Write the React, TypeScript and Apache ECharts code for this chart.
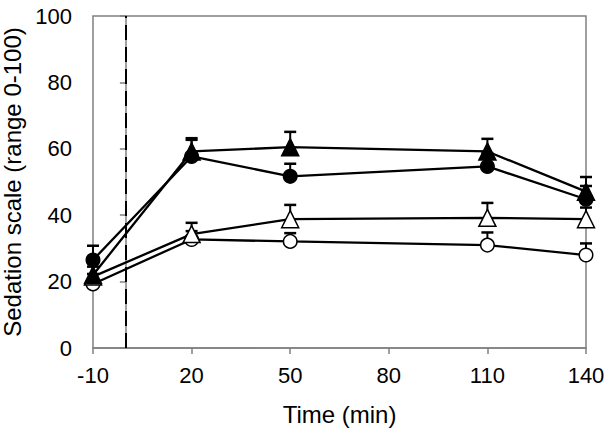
import React, { useEffect, useRef } from "react";
import * as echarts from "echarts";

const times = [-10, 20, 50, 110, 140];
const xTicks = [-10, 20, 50, 80, 110, 140];
const infusionStart = 0;

const filledCircle = [26.5, 57.7, 51.7, 54.7, 44.8];
const filledCircleErr = [4.3, 5, 3.8, 4, 4];
const filledTriangle = [22, 59.2, 60.5, 59.2, 47.1];
const filledTriangleErr = [4, 4, 4.6, 3.8, 4.4];
const openTriangle = [21.5, 34.3, 38.8, 39.2, 38.8];
const openTriangleErr = [3, 3.4, 4.3, 4.5, 3.5];
const openCircle = [19.3, 32.7, 32.1, 31, 28];
const openCircleErr = [3, 2.5, 2.5, 3.8, 3.5];

const FONT = "Liberation Sans, Arial, sans-serif";

function pairs(ys: number[]) {
  return times.map((t, i) => [t, ys[i]]);
}

function errSeries(ys: number[], errs: number[], z: number) {
  return {
    type: "custom",
    z,
    silent: true,
    data: times.map((t, i) => [t, ys[i], ys[i] + errs[i]]),
    renderItem: (params: any, api: any) => {
      const p0 = api.coord([api.value(0), api.value(1)]);
      const p1 = api.coord([api.value(0), api.value(2)]);
      const hw = 6;
      return {
        type: "group",
        children: [
          { type: "line", shape: { x1: p0[0], y1: p0[1], x2: p1[0], y2: p1[1] }, style: { stroke: "#000", lineWidth: 2 } },
          { type: "line", shape: { x1: p1[0] - hw, y1: p1[1], x2: p1[0] + hw, y2: p1[1] }, style: { stroke: "#000", lineWidth: 2.5 } },
        ],
      };
    },
  };
}

function lineSeries(name: string, ys: number[], symbol: string, size: number, fill: string, z: number) {
  return {
    name,
    type: "line",
    z,
    data: pairs(ys),
    symbol,
    symbolSize: size,
    showAllSymbol: true,
    lineStyle: { color: "#000", width: 2.3 },
    itemStyle: { color: fill, borderColor: "#000", borderWidth: 1.5, opacity: 1 },
  };
}

export default function App() {
  const ref = useRef<HTMLDivElement>(null);
  useEffect(() => {
    if (!ref.current) return;
    const chart = echarts.init(ref.current, null, { renderer: "svg" });
    chart.setOption({
      animation: false,
      backgroundColor: "#fff",
      grid: {
        left: 93,
        right: 28,
        top: 16,
        bottom: 86,
        containLabel: false,
        outerBoundsMode: "none",
        show: true,
        borderColor: "#808080",
        borderWidth: 1.5,
        backgroundColor: "transparent",
      },
      xAxis: {
        type: "value",
        min: -10,
        max: 140,
        interval: 30,
        name: "Time (min)",
        nameLocation: "middle",
        nameGap: 54,
        nameTextStyle: { fontFamily: FONT, fontSize: 24, color: "#000" },
        axisLine: { show: true, lineStyle: { color: "#808080", width: 1.5 } },
        axisTick: { show: true, inside: false, length: 6, lineStyle: { color: "#808080", width: 1.5 } },
        axisLabel: {
          fontFamily: FONT,
          fontSize: 22,
          color: "#000",
          margin: 16,
          formatter: (v: number) => (xTicks.includes(v) ? String(v) : ""),
        },
        splitLine: { show: false },
      },
      yAxis: {
        type: "value",
        min: 0,
        max: 100,
        interval: 20,
        name: "Sedation scale (range 0-100)",
        nameLocation: "middle",
        nameGap: 62,
        nameTextStyle: { fontFamily: FONT, fontSize: 24, color: "#000" },
        axisLine: { show: true, lineStyle: { color: "#808080", width: 1.5 } },
        axisTick: { show: true, inside: false, length: 6, lineStyle: { color: "#808080", width: 1.5 } },
        axisLabel: { fontFamily: FONT, fontSize: 22, color: "#000", margin: 21 },
        splitLine: { show: false },
      },
      series: [
        {
          type: "line",
          data: [],
          silent: true,
          markLine: {
            silent: true,
            symbol: ["none", "none"],
            label: { show: false },
            lineStyle: { color: "#000", width: 2, type: [15, 7] },
            data: [{ xAxis: infusionStart }],
          },
        },
        errSeries(openCircle, openCircleErr, 2),
        errSeries(openTriangle, openTriangleErr, 2),
        errSeries(filledTriangle, filledTriangleErr, 2),
        errSeries(filledCircle, filledCircleErr, 2),
        lineSeries("Open circle", openCircle, "circle", 13.5, "#fff", 3),
        lineSeries("Open triangle", openTriangle, "triangle", 17, "#fff", 4),
        lineSeries("Filled triangle", filledTriangle, "triangle", 17, "#000", 5),
        lineSeries("Filled circle", filledCircle, "circle", 13.5, "#000", 6),
      ],
    });
    return () => chart.dispose();
  }, []);
  return (
    <div
      ref={ref}
      style={{ position: "absolute", left: 0, top: 0, width: 614, height: 434 }}
    />
  );
}
